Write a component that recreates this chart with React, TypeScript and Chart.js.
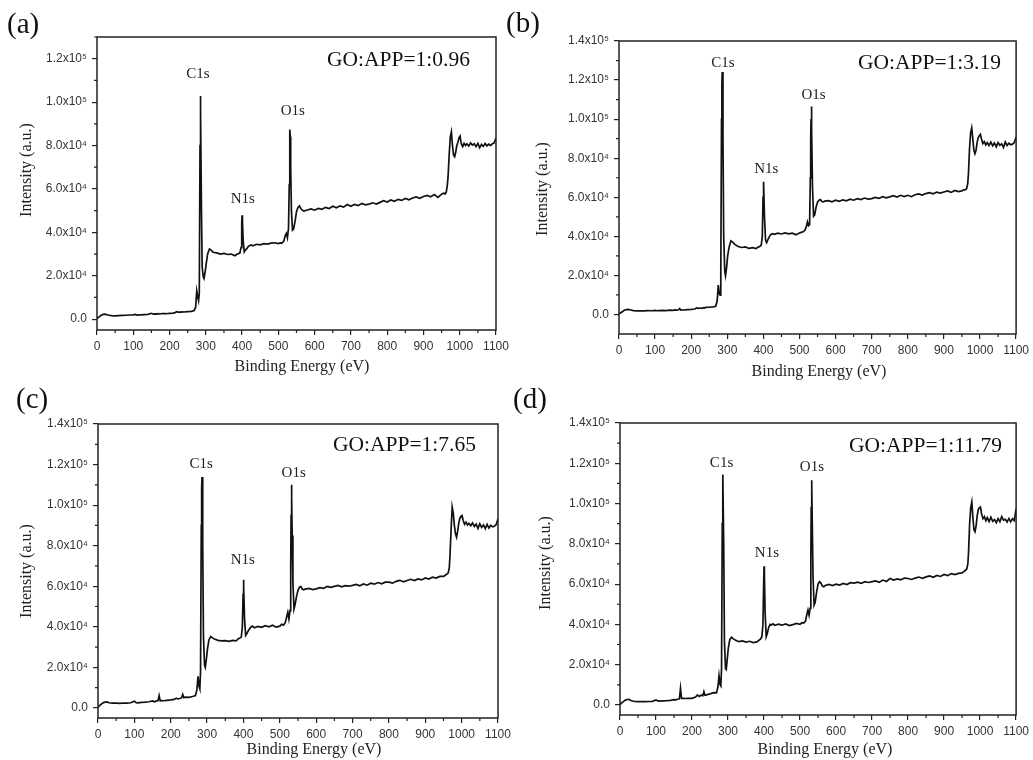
import { useEffect, useRef } from 'react';
import { Chart, registerables } from 'chart.js';

Chart.register(...registerables);

// ---------------- data ----------------
const energy = [
  0, 5, 10, 15, 20, 25, 30, 40, 50, 60,
  70, 80, 90, 100, 105, 110, 120, 130, 140, 150,
  155, 160, 165, 168, 171, 175, 180, 190, 200, 210,
  215, 220, 225, 230, 233, 236, 240, 250, 260, 268,
  272, 275, 278, 280, 282, 284, 285, 286, 288, 290,
  293, 295, 298, 301, 305, 310, 315, 320, 330, 340,
  350, 360, 370, 380, 385, 390, 394, 397, 399, 400,
  401, 403, 406, 409, 413, 417, 420, 425, 430, 440,
  450, 460, 470, 480, 490, 500, 505, 510, 515, 519,
  522, 525, 528, 530, 531, 532, 533, 534, 536, 539,
  542, 546, 550, 554, 558, 562, 566, 570, 580, 590,
  600, 610, 620, 630, 640, 650, 660, 670, 680, 690,
  700, 710, 720, 730, 740, 750, 760, 770, 780, 790,
  800, 810, 820, 830, 840, 850, 860, 870, 880, 890,
  900, 910, 920, 930, 940, 950, 955, 960, 963, 966,
  968, 971, 974, 977, 980, 983, 986, 989, 992, 995,
  998, 1001, 1004, 1008, 1012, 1016, 1020, 1025, 1030, 1035,
  1040, 1045, 1050, 1055, 1060, 1065, 1070, 1075, 1080, 1085,
  1090, 1095, 1100,
];

const intensityA = [
  200, 900, 1600, 2100, 2300, 2200, 1900, 1600, 1500, 1600,
  1700, 1800, 1900, 2000, 2200, 1900, 2000, 2100, 2200, 2700,
  2300, 2400, 2300, 2500, 2400, 2500, 2600, 2500, 2700, 2800,
  3000, 3400, 3100, 3300, 3200, 3400, 3300, 3500, 3600, 4000,
  5500, 13000, 10000, 8500, 12000, 80000, 102800, 95000, 50000, 24000,
  19500, 18700, 21500, 25500, 30000, 32300, 31800, 30800, 30500, 30000,
  30300, 29800, 30000, 29200, 29800, 30200, 30500, 33000, 44000, 47900,
  45000, 36000, 31000, 31800, 32500, 33500, 33800, 34200, 33800, 34500,
  34200, 34800, 34600, 35000, 35200, 34800, 35100, 35000, 36000, 38500,
  39500, 37500, 42000, 62000, 80000, 87400, 84000, 70000, 50000, 41000,
  41500, 45000, 49500, 51500, 52200, 51000, 50200, 49800, 50300, 50800,
  50200, 51000, 50600, 51500, 51000, 52000, 51300, 52200, 51600, 52800,
  52000, 52900, 52300, 53300, 52700, 53000, 53600, 53000, 53800, 54600,
  54000, 54900, 54300, 55200, 54700, 55600, 55000, 55800, 56300, 55700,
  56500, 57000, 56400, 57400, 56100, 57600, 58000, 57700, 58600, 62000,
  66000, 76000, 84000, 86300, 80000, 75500, 74800, 77000, 80000, 81500,
  83500, 84300, 81000, 79500, 81000, 80000, 80800, 79800, 81200, 80200,
  80800, 79500, 81000, 79000, 80500, 79600, 80900, 79800, 80600, 80000,
  80800, 81200, 83500,
];

const intensityB = [
  300, 900, 1500, 2200, 2500, 2600, 2400, 2000, 1800, 1900,
  1800, 2000, 1900, 2100, 1900, 2000, 2100, 2000, 2200, 2100,
  2300, 2200, 2400, 3000, 2300, 2400, 2300, 2500, 2600, 2800,
  3400, 3100, 3300, 3100, 3500, 3300, 3600, 3700, 3900, 4200,
  7000, 15000, 10500, 9900, 20000, 100000, 118000, 124100, 90000, 40000,
  22000, 19800, 24000, 30000, 34500, 37700, 37000, 36000, 34800, 34300,
  34600, 33800, 34200, 33700, 34500, 34800, 35500, 40000, 60000, 66000,
  67900, 50000, 38000, 36800, 38500, 40000, 40800, 41300, 41000, 41600,
  41200, 41800, 41300, 41600, 40800, 41700, 42000, 42300, 43100, 45000,
  47400, 45500, 46000, 70000, 90000, 100000, 106500, 95000, 65000, 50300,
  51000, 55000, 57500, 58500, 58800, 57800, 57600, 58000, 58300, 57700,
  58500, 57900, 58700, 58200, 59000, 58500, 59300, 58800, 59600, 59100,
  59300, 59900, 59400, 60300, 59700, 60200, 60800, 60100, 61000, 60400,
  61000, 60300, 61300, 61700, 61100, 61900, 62400, 61800, 62600, 62100,
  62700, 63200, 62500, 63500, 62900, 63300, 63800, 63900, 64500, 67000,
  72000, 85000, 93000, 95500, 90000, 84000, 82300, 84000, 88000, 90500,
  91500, 92200, 90000, 87500, 88500, 86800, 88000, 86500, 88200, 86400,
  87800, 85800, 88000, 86600, 87400, 85500, 88300, 86500, 87700, 86900,
  87200, 88000, 90900,
];

const intensityC = [
  300, 1200, 2000, 2600, 2800, 2900, 2500, 2300, 2300, 2200,
  2400, 2300, 2500, 3300, 2600, 2500, 2700, 2800, 3000, 3400,
  3000, 3300, 3600, 6100, 3500, 3600, 3500, 3700, 3900, 4200,
  4800, 4400, 4600, 5000, 6600, 5000, 5300, 5200, 5600, 6100,
  9000, 15500, 10500, 9400, 18000, 90000, 108000, 113800, 80000, 35000,
  21000, 20000, 24000, 29000, 33500, 35200, 34500, 34000, 33300, 33000,
  33200, 32800, 33300, 33000, 34000, 34400, 34900, 40000, 56000, 63200,
  60000, 44000, 35700, 36500, 38000, 39000, 39800, 40300, 39500, 40200,
  39700, 40500, 40000, 40800, 39800, 40300, 41200, 40800, 42000, 45000,
  47200, 43900, 48000, 70000, 95000, 110000, 104000, 85000, 62000, 48800,
  51000, 55000, 58000, 59500, 59800, 58500, 58200, 58600, 58900, 58300,
  58700, 59300, 58900, 59900, 59400, 59900, 60400, 59700, 60300, 60000,
  60400, 60900, 60200, 61100, 60500, 61500, 61000, 61800, 61200, 62000,
  62000, 61500, 62400, 62900, 62200, 62800, 63400, 62800, 63600, 63100,
  64100, 63500, 64500, 64000, 64800, 64800, 65400, 66100, 66500, 69000,
  75000, 88000, 99000, 96000, 90000, 86000, 84200, 87000, 91000, 93500,
  94500, 94900, 92500, 90500, 91600, 90200, 91000, 89800, 91200, 89500,
  90600, 88500, 90800, 89000, 90200, 88400, 90500, 88700, 90100, 89300,
  89600, 90400, 93300,
];

const intensityD = [
  200, 1000, 1800, 2400, 2700, 2800, 2200, 1700, 1600, 1700,
  1600, 1700, 1800, 2500, 2000, 1900, 2000, 2100, 2300, 2600,
  2500, 2800, 3000, 8300, 3300, 3300, 3200, 3300, 3300, 3900,
  5000, 4200, 4800, 4600, 6600, 4800, 5000, 5500, 6100, 6000,
  9000, 14500, 10000, 9400, 18000, 90000, 108000, 114400, 80000, 32000,
  18000, 17600, 23000, 28500, 32500, 33600, 32800, 32200, 31400, 31800,
  31200, 31600, 31000, 31300, 32000, 32600, 33900, 40000, 60000, 68900,
  65000, 46000, 33900, 35500, 38500, 40000, 39700, 40300, 39500, 40100,
  39600, 40200, 39400, 39900, 40500, 40000, 40800, 40600, 41500, 45000,
  47100, 44600, 48000, 72000, 98000, 111600, 108000, 90000, 64000, 49600,
  51000, 56000, 60000, 61200, 60500, 59000, 58700, 59300, 59800, 59300,
  60000, 59500, 60300, 59800, 60700, 60500, 61000, 60400, 61200, 60800,
  61200, 61600, 60900, 62000, 61300, 62800, 62000, 62600, 62100, 63000,
  62800, 62300, 63000, 63500, 62900, 63600, 64100, 63400, 64300, 63800,
  64800, 64200, 65200, 64700, 65300, 65600, 66200, 67000, 67500, 70000,
  76000, 90000, 98000, 100800, 93000, 87000, 86000, 89000, 94000, 97000,
  98000, 98300, 95000, 92500, 93500, 91500, 93000, 91000, 93200, 91200,
  92000, 90500, 92500, 91000, 93500, 91800, 92200, 90800, 92600, 91000,
  92500, 91500, 97500,
];

const xTickValues = [0, 100, 200, 300, 400, 500, 600, 700, 800, 900, 1000, 1100];
const xTickLabels = ['0', '100', '200', '300', '400', '500', '600', '700', '800', '900', '1000', '1100'];
const xMinorTicks = [50, 150, 250, 350, 450, 550, 650, 750, 850, 950, 1050];
const yTickValues = [0, 20000, 40000, 60000, 80000, 100000, 120000, 140000];
const yTickLabels = ['0.0', '2.0x10\u2074', '4.0x10\u2074', '6.0x10\u2074', '8.0x10\u2074', '1.0x10\u2075', '1.2x10\u2075', '1.4x10\u2075'];
const yMinorTicks = [10000, 30000, 50000, 70000, 90000, 110000, 130000];

const panelTitles = ['GO:APP=1:0.96', 'GO:APP=1:3.19', 'GO:APP=1:7.65', 'GO:APP=1:11.79'];
const panelLetters = ['(a)', '(b)', '(c)', '(d)'];
const peakNames = ['C1s', 'N1s', 'O1s'];
// label anchor (energy, intensity) for each peak name, per panel
const peakLabelEnergyA = [278, 402, 540];
const peakLabelIntensityA = [112900, 55300, 95900];
const peakLabelEnergyB = [288, 408, 539];
const peakLabelIntensityB = [128500, 74300, 112200];
const peakLabelEnergyC = [284, 398, 538];
const peakLabelIntensityC = [120100, 72700, 115700];
const peakLabelEnergyD = [282, 408, 533];
const peakLabelIntensityD = [120100, 75400, 118100];

const xAxisTitle = 'Binding Energy (eV)';
const yAxisTitle = 'Intensity (a.u.)';

// ---------------- layout / style ----------------
const SANS = "'Liberation Sans', Arial, sans-serif";
const SERIF = "'Liberation Serif', 'Times New Roman', serif";

const panels = [
  {
    values: intensityA, title: panelTitles[0], peakE: peakLabelEnergyA, peakI: peakLabelIntensityA,
    left: 0, top: 0, w: 516, h: 380, plot: { l: 97, t: 37, r: 496, b: 330 }, yMin: -5000, yMax: 130000,
    titlePos: [327, 60], xTitlePos: [302, 367], yTitlePos: [27, 170],
  },
  {
    values: intensityB, title: panelTitles[1], peakE: peakLabelEnergyB, peakI: peakLabelIntensityB,
    left: 516, top: 0, w: 517, h: 380, plot: { l: 103, t: 41, r: 502, b: 334 }, yMin: -10000, yMax: 140000,
    titlePos: [342, 63], xTitlePos: [303, 372], yTitlePos: [27, 189],
  },
  {
    values: intensityC, title: panelTitles[2], peakE: peakLabelEnergyC, peakI: peakLabelIntensityC,
    left: 0, top: 380, w: 516, h: 380, plot: { l: 98, t: 44, r: 498, b: 338 }, yMin: -5000, yMax: 140000,
    titlePos: [333, 65], xTitlePos: [314, 370], yTitlePos: [27, 191],
  },
  {
    values: intensityD, title: panelTitles[3], peakE: peakLabelEnergyD, peakI: peakLabelIntensityD,
    left: 516, top: 380, w: 517, h: 380, plot: { l: 104, t: 43, r: 503, b: 335 }, yMin: -5000, yMax: 140000,
    titlePos: [333, 66], xTitlePos: [309, 370], yTitlePos: [30, 183],
  },
];

const letterPos = [
  { x: 7, y: 8 },
  { x: 506, y: 7 },
  { x: 16, y: 383 },
  { x: 513, y: 383 },
];

function makeDecor(p: any) {
  return {
    id: 'decor',
    afterDraw(chart: any) {
      const { ctx, chartArea: a } = chart;
      const xs = chart.scales.x;
      const ys = chart.scales.y;
      ctx.save();
      // frame
      ctx.strokeStyle = '#222';
      ctx.lineWidth = 1.5;
      ctx.strokeRect(a.left, a.top, a.right - a.left, a.bottom - a.top);
      // minor ticks
      ctx.lineWidth = 1.2;
      ctx.beginPath();
      xMinorTicks.forEach((v) => {
        const px = xs.getPixelForValue(v);
        ctx.moveTo(px, a.bottom);
        ctx.lineTo(px, a.bottom + 3);
      });
      yMinorTicks.forEach((v) => {
        if (v < p.yMin || v > p.yMax) return;
        const py = ys.getPixelForValue(v);
        ctx.moveTo(a.left, py);
        ctx.lineTo(a.left - 3, py);
      });
      ctx.stroke();
      // peak labels
      ctx.fillStyle = '#222';
      ctx.font = `15px ${SERIF}`;
      ctx.textAlign = 'center';
      ctx.textBaseline = 'middle';
      peakNames.forEach((name, i) => {
        ctx.fillText(name, xs.getPixelForValue(p.peakE[i]), ys.getPixelForValue(p.peakI[i]));
      });
      // sample title
      ctx.fillStyle = '#111';
      ctx.font = `21.5px ${SERIF}`;
      ctx.textAlign = 'left';
      ctx.fillText(p.title, p.titlePos[0], p.titlePos[1]);
      // axis titles
      ctx.fillStyle = '#222';
      ctx.font = `16px ${SERIF}`;
      ctx.textAlign = 'center';
      ctx.fillText(xAxisTitle, p.xTitlePos[0], p.xTitlePos[1]);
      ctx.translate(p.yTitlePos[0], p.yTitlePos[1]);
      ctx.rotate(-Math.PI / 2);
      ctx.fillText(yAxisTitle, 0, 0);
      ctx.restore();
    },
  };
}

function Panel({ p }: { p: any }) {
  const ref = useRef<HTMLCanvasElement>(null);
  useEffect(() => {
    const points = energy.map((e, i) => ({ x: e, y: p.values[i] }));
    const chart = new Chart(ref.current as HTMLCanvasElement, {
      type: 'line',
      data: {
        datasets: [
          {
            data: points,
            borderColor: '#111',
            borderWidth: 1.7,
            pointRadius: 0,
            tension: 0,
            fill: false,
          },
        ],
      },
      options: {
        responsive: false,
        animation: false,
        devicePixelRatio: 1,
        events: [],
        layout: { padding: { left: 0, top: p.plot.t, right: p.w - p.plot.r, bottom: 0 } },
        plugins: { legend: { display: false }, tooltip: { enabled: false }, title: { display: false } },
        scales: {
          x: {
            type: 'linear',
            min: 0,
            max: 1100,
            afterBuildTicks: (s: any) => {
              s.ticks = xTickValues.map((v) => ({ value: v }));
            },
            afterFit: (s: any) => {
              s.height = p.h - p.plot.b;
            },
            ticks: {
              callback: (v: any) => {
                const i = xTickValues.indexOf(Number(v));
                return i >= 0 ? xTickLabels[i] : '';
              },
              color: '#333',
              font: { family: SANS, size: 12 },
              padding: 4,
              maxRotation: 0,
              minRotation: 0,
              autoSkip: false,
            },
            grid: { drawOnChartArea: false, drawTicks: true, tickLength: 5, color: '#222', lineWidth: 1.2 },
            border: { display: false },
          },
          y: {
            type: 'linear',
            min: p.yMin,
            max: p.yMax,
            afterBuildTicks: (s: any) => {
              s.ticks = yTickValues.filter((v) => v >= p.yMin && v <= p.yMax).map((v) => ({ value: v }));
            },
            afterFit: (s: any) => {
              s.width = p.plot.l;
            },
            ticks: {
              callback: (v: any) => {
                const i = yTickValues.indexOf(Number(v));
                return i >= 0 ? yTickLabels[i] : '';
              },
              color: '#333',
              font: { family: SANS, size: 12 },
              padding: 5,
              autoSkip: false,
            },
            grid: { drawOnChartArea: false, drawTicks: true, tickLength: 5, color: '#222', lineWidth: 1.2 },
            border: { display: false },
          },
        },
      },
      plugins: [makeDecor(p)],
    } as any);
    return () => chart.destroy();
  }, []);
  return (
    <canvas
      ref={ref}
      width={p.w}
      height={p.h}
      style={{ position: 'absolute', left: p.left, top: p.top, width: p.w, height: p.h }}
    />
  );
}

export default function App() {
  return (
    <div style={{ position: 'absolute', left: 0, top: 0, width: 1033, height: 760, background: '#fff', overflow: 'hidden' }}>
      {panels.map((p, i) => (
        <Panel key={i} p={p} />
      ))}
      {panelLetters.map((t, i) => (
        <div
          key={t}
          style={{
            position: 'absolute',
            left: letterPos[i].x,
            top: letterPos[i].y,
            font: `29px ${SERIF}`,
            lineHeight: '30px',
            color: '#111',
            whiteSpace: 'nowrap',
          }}
        >
          {t}
        </div>
      ))}
    </div>
  );
}
